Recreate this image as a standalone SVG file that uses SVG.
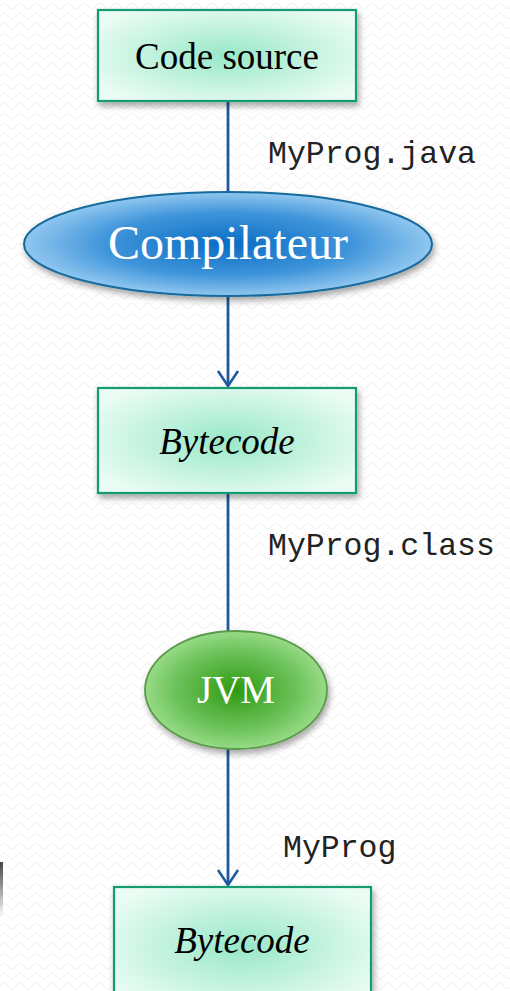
<svg xmlns="http://www.w3.org/2000/svg" width="510" height="991" viewBox="0 0 510 991">
  <defs>
    <!-- faint wavy slide texture -->
    <pattern id="waves" width="16" height="10" patternUnits="userSpaceOnUse">
      <path d="M0 6 Q4 1 8 6 T16 6" fill="none" stroke="#f1f1f1" stroke-width="1.2"/>
    </pattern>
    <radialGradient id="boxFill" cx="50%" cy="50%" r="60%">
      <stop offset="0" stop-color="#98e8c8"/>
      <stop offset="1" stop-color="#eafcf4"/>
    </radialGradient>
    <radialGradient id="blueFill" cx="50%" cy="50%" r="55%">
      <stop offset="0" stop-color="#0a6cc4"/>
      <stop offset="0.55" stop-color="#3f95da"/>
      <stop offset="1" stop-color="#a6d4f6"/>
    </radialGradient>
    <radialGradient id="greenFill" cx="50%" cy="50%" r="55%">
      <stop offset="0" stop-color="#2f9a12"/>
      <stop offset="0.6" stop-color="#6cc25a"/>
      <stop offset="1" stop-color="#a4e294"/>
    </radialGradient>
    <linearGradient id="edgeBar" x1="0" y1="0" x2="0" y2="1">
      <stop offset="0" stop-color="#444"/>
      <stop offset="1" stop-color="#444" stop-opacity="0"/>
    </linearGradient>
    <filter id="shadow" x="-10%" y="-10%" width="125%" height="135%">
      <feDropShadow dx="2" dy="4" stdDeviation="3" flood-color="#000" flood-opacity="0.35"/>
    </filter>
    <style>
      .box { fill: url(#boxFill); stroke: #179a72; stroke-width: 2.2; filter: url(#shadow); }
      .link { fill: none; stroke: #1d5a9e; stroke-width: 2.8; }
      .head { fill: none; stroke: #1d5a9e; stroke-width: 2.6; stroke-linejoin: miter; }
      .serif { font-family: "Liberation Serif", "Times New Roman", serif; }
      .mono { font-family: "Liberation Mono", "Courier New", monospace; font-size: 31.5px; fill: #222; }
      .dark { fill: #000; font-size: 37px; }
      .light { fill: #fff; }
    </style>
  </defs>

  <rect width="510" height="991" fill="#fff"/>
  <rect width="510" height="991" fill="url(#waves)"/>
  <rect x="0" y="862" width="3" height="55" fill="url(#edgeBar)"/>

  <g id="connectors">
    <line class="link" x1="228" y1="101" x2="228" y2="192"/>
    <line class="link" x1="228" y1="296" x2="228" y2="386"/>
    <polyline class="head" points="218,371 228,386 238,371"/>
    <line class="link" x1="228" y1="493" x2="228" y2="632"/>
    <line class="link" x1="228" y1="749" x2="228" y2="885"/>
    <polyline class="head" points="218,870 228,885 238,870"/>
    <text class="mono" x="268" y="163">MyProg.java</text>
    <text class="mono" x="268" y="555">MyProg.class</text>
    <text class="mono" x="283" y="857">MyProg</text>
  </g>

  <g id="code-source">
    <rect class="box" x="98" y="10" width="258" height="91"/>
    <text class="serif dark" x="227" y="69" text-anchor="middle">Code source</text>
  </g>

  <g id="compilateur">
    <ellipse cx="228" cy="244" rx="204" ry="52" fill="url(#blueFill)" stroke="#156a9c" stroke-width="2" filter="url(#shadow)"/>
    <text class="serif light" x="228" y="259" font-size="48" text-anchor="middle">Compilateur</text>
  </g>

  <g id="bytecode-1">
    <rect class="box" x="98" y="388" width="258" height="105"/>
    <text class="serif dark" x="227" y="454" font-style="italic" text-anchor="middle">Bytecode</text>
  </g>

  <g id="jvm">
    <ellipse cx="236" cy="690" rx="91" ry="59" fill="url(#greenFill)" stroke="#5b9a4c" stroke-width="1.8" filter="url(#shadow)"/>
    <text class="serif light" x="236" y="703" font-size="39" text-anchor="middle">JVM</text>
  </g>

  <g id="bytecode-2">
    <rect class="box" x="114" y="887" width="257" height="120"/>
    <text class="serif dark" x="242" y="953" font-style="italic" text-anchor="middle">Bytecode</text>
  </g>
</svg>
